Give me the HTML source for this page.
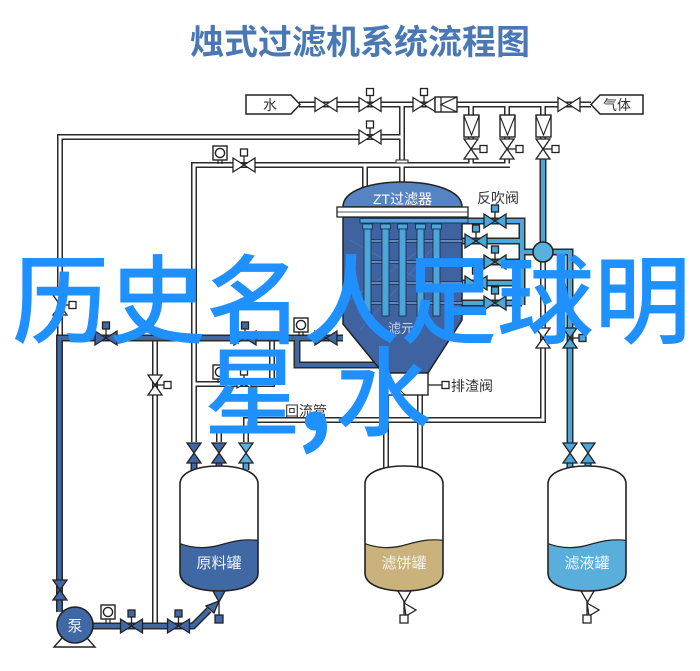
<!DOCTYPE html>
<html><head><meta charset="utf-8"><style>
html,body{margin:0;padding:0;background:#fff;}
svg{display:block}
text{font-family:"Liberation Sans","Noto Sans CJK SC",sans-serif}
</style></head><body>
<svg width="700" height="671" viewBox="0 0 700 671" xmlns="http://www.w3.org/2000/svg">
<defs>
<path id="vh" d="M-11,-7L-11,7L11,-7L11,7Z" stroke="#222" stroke-width="1.3"/>
<path id="vv" d="M-7,-10L7,-10L-7,10L7,10Z" stroke="#222" stroke-width="1.3"/>
<g id="act"><line x1="0" y1="0" x2="0" y2="-9" stroke="#222" stroke-width="1.3"/><rect x="-3.5" y="-16" width="7" height="7" stroke="#222" stroke-width="1.3"/></g>
<g id="actr"><line x1="0" y1="0" x2="9" y2="0" stroke="#222" stroke-width="1.3"/><rect x="9" y="-3.5" width="7" height="7" stroke="#222" stroke-width="1.3"/></g>
<g id="gauge"><line x1="-2" y1="6" x2="-2" y2="11" stroke="#222" stroke-width="1.2"/><line x1="2" y1="6" x2="2" y2="11" stroke="#222" stroke-width="1.2"/><rect x="-7" y="-7" width="14" height="14" fill="#fff" stroke="#222" stroke-width="1.4"/><circle r="4.6" fill="#fff" stroke="#222" stroke-width="1.4"/></g>
<clipPath id="tc"><path d="M180,484C180,472 198,466 219,466C240,466 258,472 258,484V573C258,585 240,591 219,591C198,591 180,585 180,573Z"/></clipPath>
</defs>

<!-- Title -->
<text x="190" y="54" font-size="34" font-weight="700" fill="#4a78b4">烛式过滤机系统流程图</text>

<!-- WHITE PIPES -->
<g fill="none" stroke-linejoin="miter">
<path stroke="#2a2a2a" stroke-width="6" d="M299,104.5H591 M402,104V184 M402,137H60V338 M510,165H194V442 M365,165V188 M471,104V116 M507,104V116 M543,104V116 M471,136V141 M507,136V141 M543,136V141 M471,157V165 M507,157V165 M543,157V160 M272,338V384H194 M155,338V626 M543,262V420H246V442 M386,395V470 M420,395V470 M219,428V442 M386,470V471"/>
<path stroke="#fff" stroke-width="3" d="M299,104.5H591 M402,104V184 M402,137H60V338 M510,165H194V442 M365,165V188 M471,104V116 M507,104V116 M543,104V116 M471,136V141 M507,136V141 M543,136V141 M471,157V165 M507,157V165 M543,157V160 M272,338V384H194 M155,338V626 M543,262V420H246V442 M386,395V470 M420,395V470 M219,428V442"/>
</g>
<!-- flange on x402 -->
<rect x="396" y="160" width="12" height="3" fill="#fff" stroke="#222" stroke-width="1"/>

<!-- DARK BLUE PIPES -->
<g fill="none" stroke-linejoin="miter">
<path stroke="#2a2a2a" stroke-width="7" d="M343,338H59.5V612 M297,338V365H380 M93,626H193L209,610 M194,462V470 M219,462V470"/>
<path stroke="#3f68a5" stroke-width="4" d="M343,338H59.5V612 M297,338V365H380 M93,626H193L209,610 M194,462V470 M219,462V470"/>
</g>

<!-- LIGHT BLUE PIPES -->
<g fill="none" stroke-linejoin="miter">
<path stroke="#2a2a2a" stroke-width="7" d="M543,158V243 M552,252H570V443 M462,221H522V305 M462,241H522 M462,262H522 M462,283H522 M462,303H522 M522,252H534 M246,462V470 M570,462V470 M588,462V470"/>
<path stroke="#4ba6d9" stroke-width="4" d="M543,158V243 M552,252H570V443 M462,221H522V305 M462,241H522 M462,262H522 M462,283H522 M462,303H522 M522,252H534 M246,462V470 M570,462V470 M588,462V470"/>
</g>

<!-- Source boxes -->
<path d="M246,95H291L300,104.5L291,114H246Z" fill="#fff" stroke="#222" stroke-width="1.5"/>
<text x="263" y="110" font-size="14" fill="#333">水</text>
<path d="M643,95H600L591,104.5L600,114H643Z" fill="#fff" stroke="#222" stroke-width="1.5"/>
<text x="603" y="110" font-size="14" fill="#333">气体</text>

<!-- top valves -->
<use href="#vh" x="326" y="104.5" fill="#fff"/>
<use href="#act" x="370" y="104.5" fill="#fff"/><use href="#vh" x="370" y="104.5" fill="#fff"/>
<use href="#act" x="424" y="104.5" fill="#fff"/><use href="#vh" x="424" y="104.5" fill="#fff"/>
<use href="#act" x="370" y="137" fill="#fff"/><use href="#vh" x="370" y="137" fill="#fff"/>
<use href="#vh" x="569" y="104.5" fill="#fff"/>
<rect x="435" y="97" width="22" height="15" fill="#fff" stroke="#222" stroke-width="1.4"/>
<path d="M457,97L441,104.5L457,112 M441,97V112" fill="none" stroke="#222" stroke-width="1.2"/>

<!-- rotameters -->
<g fill="#fff" stroke="#222" stroke-width="1.4">
<rect x="464" y="115" width="15" height="22"/><rect x="500" y="115" width="15" height="22"/><rect x="536" y="115" width="15" height="22"/>
</g>
<path d="M464,116L471.5,135L479,116 M500,116L507.5,135L515,116 M536,116L543.5,135L551,116" fill="none" stroke="#222" stroke-width="1.1"/>
<use href="#actr" x="471" y="149" fill="#fff"/><use href="#vv" x="471" y="149" fill="#fff"/>
<use href="#actr" x="507" y="149" fill="#fff"/><use href="#vv" x="507" y="149" fill="#fff"/>
<use href="#actr" x="543" y="149" fill="#fff"/><use href="#vv" x="543" y="149" fill="#fff"/>

<!-- y165 line devices -->
<use href="#gauge" x="220" y="153"/>
<use href="#act" x="244" y="165" fill="#fff"/><use href="#vh" x="244" y="165" fill="#fff"/>

<!-- left pipe valves -->
<use href="#actr" x="60" y="305" fill="#fff"/><use href="#vv" x="60" y="305" fill="#fff"/>
<use href="#actr" x="155" y="385" fill="#fff"/><use href="#vv" x="155" y="385" fill="#fff"/>
<use href="#vv" x="60" y="590" fill="#3f68a5"/>

<!-- blue horizontal line devices -->
<use href="#act" x="106" y="338" fill="#3f68a5"/><use href="#vh" x="106" y="338" fill="#3f68a5"/>
<use href="#act" x="245" y="338" fill="#3f68a5"/><use href="#vh" x="245" y="338" fill="#3f68a5"/>
<use href="#gauge" x="301" y="325"/>
<use href="#vh" x="326" y="338" fill="#3f68a5"/>

<!-- y384 devices -->
<use href="#gauge" x="220" y="372"/>
<use href="#act" x="244" y="384" fill="#fff"/>
<path d="M237,380L237,388L251,380L251,388Z" fill="#fff" stroke="#222" stroke-width="1.2"/>

<!-- FILTER VESSEL -->
<path d="M343,207C343,190 372,182 402,182C432,182 462,190 462,207Z" fill="#5683c2" stroke="#222" stroke-width="1.5"/>
<text x="373" y="204" font-size="14" fill="#fff">ZT过滤器</text>
<path d="M343,217H462V320L428,373H383L343,324Z" fill="#3f62a0" stroke="#222" stroke-width="1.5"/>
<path d="M350,240L455,300 M350,300L420,250 M360,330L440,240" stroke="#5b7fb8" stroke-width="0.8" fill="none" opacity="0.6"/>
<rect x="337" y="207" width="131" height="10" fill="#fff" stroke="#222" stroke-width="1.3"/>
<line x1="337" y1="212" x2="468" y2="212" stroke="#222" stroke-width="0.8"/>
<!-- internal lines -->
<g stroke="#1f2f55" stroke-width="3.5" fill="none"><path d="M368,241H462 M368,262H462 M368,283H462 M368,303H462"/></g>
<g stroke="#7da2d8" stroke-width="1.5" fill="none"><path d="M368,241H462 M368,262H462 M368,283H462 M368,303H462"/></g>
<!-- candles -->
<g fill="#4ba6d9" stroke="#1d2f50" stroke-width="0.9">
<rect x="364" y="228" width="7" height="88"/><rect x="382" y="228" width="7" height="88"/><rect x="399" y="228" width="7" height="88"/><rect x="417" y="228" width="7" height="88"/><rect x="433" y="228" width="7" height="88"/>
<rect x="362.5" y="224" width="10" height="5"/><rect x="380.5" y="224" width="10" height="5"/><rect x="397.5" y="224" width="10" height="5"/><rect x="415.5" y="224" width="10" height="5"/><rect x="431.5" y="224" width="10" height="5"/>
<rect x="360" y="218.5" width="108" height="4.5"/>
</g>
<text x="388" y="333" font-size="13" fill="#c9d5ea">滤元</text>

<!-- 排渣阀 -->
<rect x="383" y="373" width="45" height="22" fill="#fff" stroke="#222" stroke-width="1.4"/>
<path d="M383,373L405,395" stroke="#222" stroke-width="1" fill="none"/>
<line x1="428" y1="385" x2="442" y2="385" stroke="#222" stroke-width="1.3"/>
<rect x="442" y="381.5" width="7" height="7" fill="#fff" stroke="#222" stroke-width="1.3"/>
<text x="451" y="391" font-size="14" fill="#333">排渣阀</text>
<text x="285" y="416" font-size="14" fill="#333">回流管</text>
<text x="477" y="203" font-size="14" fill="#333">反吹阀</text>

<!-- 反吹阀 valves -->
<use href="#act" x="495" y="221" fill="#4ba6d9"/><use href="#vh" x="495" y="221" fill="#4ba6d9"/>
<use href="#act" x="476" y="241" fill="#4ba6d9"/><use href="#vh" x="476" y="241" fill="#4ba6d9"/>
<use href="#act" x="495" y="262" fill="#4ba6d9"/><use href="#vh" x="495" y="262" fill="#4ba6d9"/>
<use href="#act" x="476" y="283" fill="#4ba6d9"/><use href="#vh" x="476" y="283" fill="#4ba6d9"/>
<use href="#act" x="495" y="303" fill="#4ba6d9"/><use href="#vh" x="495" y="303" fill="#4ba6d9"/>
<circle cx="543" cy="252" r="10" fill="#5ab0dc" stroke="#222" stroke-width="1.5"/>
<use href="#vv" x="543" y="338" fill="#fff"/>
<use href="#actr" x="570" y="338" fill="#4ba6d9"/><use href="#vv" x="570" y="338" fill="#4ba6d9"/>

<!-- tank top valves -->
<use href="#vv" x="194" y="453" fill="#3f68a5"/>
<use href="#vv" x="219" y="453" fill="#3f68a5"/>
<use href="#vv" x="246" y="453" fill="#5ab0dc"/>
<use href="#vv" x="570" y="453" fill="#4ba6d9"/>
<use href="#vv" x="588" y="453" fill="#4ba6d9"/>

<!-- TANKS -->
<g>
<path d="M180,484C180,472 198,466 219,466C240,466 258,472 258,484V573C258,585 240,591 219,591C198,591 180,585 180,573Z" fill="#fff"/>
<path d="M176,542C192,549 206,549 220,545C234,541 246,538 262,541V600H176Z" fill="#3f68a5" clip-path="url(#tc)"/>
<path d="M180,484C180,472 198,466 219,466C240,466 258,472 258,484V573C258,585 240,591 219,591C198,591 180,585 180,573Z" fill="none" stroke="#222" stroke-width="1.6"/>
<path d="M176,542C192,549 206,549 220,545C234,541 246,538 262,541" fill="none" stroke="#222" stroke-width="1.2" clip-path="url(#tc)"/>
<text x="219" y="568" font-size="15" fill="#f2f4f8" text-anchor="middle">原料罐</text>
</g>
<g transform="translate(185,0)">
<path d="M180,484C180,472 198,466 219,466C240,466 258,472 258,484V573C258,585 240,591 219,591C198,591 180,585 180,573Z" fill="#fff"/>
<path d="M176,542C192,549 206,549 220,545C234,541 246,538 262,541V600H176Z" fill="#c9b27c" clip-path="url(#tc)"/>
<path d="M180,484C180,472 198,466 219,466C240,466 258,472 258,484V573C258,585 240,591 219,591C198,591 180,585 180,573Z" fill="none" stroke="#222" stroke-width="1.6"/>
<path d="M176,542C192,549 206,549 220,545C234,541 246,538 262,541" fill="none" stroke="#222" stroke-width="1.2" clip-path="url(#tc)"/>
<text x="219" y="568" font-size="15" fill="#f6f3ea" text-anchor="middle">滤饼罐</text>
<path d="M213,591L220,603 M226,591L219,603 M219,603V615" stroke="#222" stroke-width="1.3" fill="none"/>
<path d="M219,603L231,610L221,616Z" fill="#fff" stroke="#222" stroke-width="1.3"/>
<rect x="215" y="615" width="8" height="8" fill="#fff" stroke="#222" stroke-width="1.3"/>
</g>
<g transform="translate(368,0)">
<path d="M180,484C180,472 198,466 219,466C240,466 258,472 258,484V573C258,585 240,591 219,591C198,591 180,585 180,573Z" fill="#fff"/>
<path d="M176,542C192,549 206,549 220,545C234,541 246,538 262,541V600H176Z" fill="#5aaedc" clip-path="url(#tc)"/>
<path d="M180,484C180,472 198,466 219,466C240,466 258,472 258,484V573C258,585 240,591 219,591C198,591 180,585 180,573Z" fill="none" stroke="#222" stroke-width="1.6"/>
<path d="M176,542C192,549 206,549 220,545C234,541 246,538 262,541" fill="none" stroke="#222" stroke-width="1.2" clip-path="url(#tc)"/>
<text x="219" y="568" font-size="15" fill="#f2f8fc" text-anchor="middle">滤液罐</text>
<path d="M213,591L220,603 M226,591L219,603 M219,603V615" stroke="#222" stroke-width="1.3" fill="none"/>
<path d="M219,603L231,610L221,616Z" fill="#fff" stroke="#222" stroke-width="1.3"/>
<rect x="215" y="615" width="8" height="8" fill="#fff" stroke="#222" stroke-width="1.3"/>
</g>

<!-- raw tank outlet -->
<path d="M213,591H225L219,602Z" fill="#3f68a5" stroke="#222" stroke-width="1.3"/>
<line x1="219" y1="602" x2="219" y2="615" stroke="#222" stroke-width="1.3"/>
<rect x="215" y="615" width="8" height="8" fill="#3f68a5" stroke="#222" stroke-width="1.3"/>
<path d="M219,601L214,613L206,606Z" fill="#3f68a5" stroke="#222" stroke-width="1.3"/>

<!-- PUMP area -->
<path d="M62,638L54,647H95L87,638" fill="#fff" stroke="#222" stroke-width="1.4"/>
<circle cx="75" cy="625" r="18" fill="#3f68a5" stroke="#222" stroke-width="1.6"/>
<text x="75" y="631" font-size="15" fill="#f2f4f8" text-anchor="middle">泵</text>
<use href="#gauge" x="108" y="612"/>
<use href="#act" x="131.5" y="626" fill="#3f68a5"/><use href="#vh" x="131.5" y="626" fill="#3f68a5"/>
<use href="#act" x="178.5" y="626" fill="#3f68a5"/><use href="#vh" x="178.5" y="626" fill="#3f68a5"/>

<!-- OVERLAY TEXT -->
<g fill="#1e90ff" font-weight="500">
<text x="12" y="336" font-size="97" style="font-family:'Noto Sans CJK SC','Liberation Sans',sans-serif">历史名人足球明</text>
<text x="204" y="428" font-size="97" style="font-family:'Noto Sans CJK SC','Liberation Sans',sans-serif">星</text>
<text x="297" y="431" font-size="110" font-weight="700" style="font-family:'Noto Sans CJK SC','Liberation Sans',sans-serif">,</text>
<text x="335" y="428" font-size="97" style="font-family:'Noto Sans CJK SC','Liberation Sans',sans-serif">水</text>
</g>
</svg>
</body></html>
